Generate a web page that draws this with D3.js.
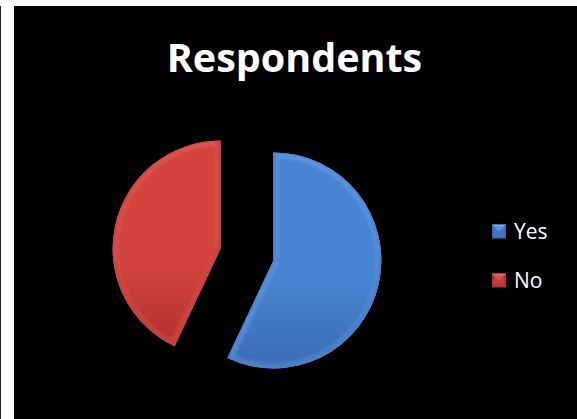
<!DOCTYPE html>
<html>
<head>
<meta charset="utf-8">
<script src="https://cdn.jsdelivr.net/npm/d3@7"></script>
<style>
  html, body { margin: 0; padding: 0; background: #fff; }
  svg { display: block; }
</style>
</head>
<body>
<svg id="chart" width="577" height="419"></svg>
<script>
// Survey answers
const categories = ["Yes", "No"];
const values = [57, 43];
const title = "Respondents";

const baseColors = ["#4784d2", "#d4433d"];
const lightColors = ["#6ea8ee", "#ea6660"];
const darkColors = ["#3a6cb3", "#b3322d"];

const W = 577, H = 419;
const svg = d3.select("#chart");
const defs = svg.append("defs");

// Page frame: white margin on the left and top, thin dark rule at the far left
svg.append("rect").attr("x", 0).attr("y", 0).attr("width", W).attr("height", H).attr("fill", "#fff");
svg.append("rect").attr("x", 0).attr("y", 6).attr("width", 1).attr("height", H - 6).attr("fill", "#222");
svg.append("rect").attr("x", 14).attr("y", 6).attr("width", W - 14).attr("height", H - 6).attr("fill", "#000");

// Title
svg.append("text")
  .attr("x", 294.5).attr("y", 72)
  .attr("text-anchor", "middle")
  .attr("fill", "#fff")
  .style("font-family", "'Open Sans', sans-serif")
  .style("font-weight", "700")
  .style("font-size", "39.5px")
  .text(title);

// Soft blur used for the bevelled rim of each slice
defs.append("filter").attr("id", "soft")
  .append("feGaussianBlur").attr("stdDeviation", 2);

// Vertical shading per slice
categories.forEach((c, i) => {
  const g = defs.append("linearGradient").attr("id", "grad" + i)
    .attr("x1", 0).attr("y1", 0).attr("x2", 0).attr("y2", 1);
  g.append("stop").attr("offset", "0%").attr("stop-color", baseColors[i]);
  g.append("stop").attr("offset", "60%").attr("stop-color", baseColors[i]);
  g.append("stop").attr("offset", "100%").attr("stop-color", darkColors[i]);
});

// Exploded pie
const cx = 247, cy = 254.5, radius = 108, explode = 27;
const pie = d3.pie().sort(null).value(d => d)(values);
const arc = d3.arc().innerRadius(0).outerRadius(radius);

const pieG = svg.append("g").attr("transform", `translate(${cx},${cy})`);
pie.forEach((d, i) => {
  const a = (d.startAngle + d.endAngle) / 2;
  const g = pieG.append("g")
    .attr("transform", `translate(${Math.sin(a) * explode},${-Math.cos(a) * explode})`);
  const path = arc(d);
  defs.append("clipPath").attr("id", "clip" + i).append("path")
    .attr("d", path)
    .attr("transform", `translate(${cx + Math.sin(a) * explode},${cy - Math.cos(a) * explode})`);
  g.append("path").attr("d", path).attr("fill", `url(#grad${i})`);
  // light rim along the upper edges, darker rim along the lower ones
  const rim = svg.append("g").attr("clip-path", `url(#clip${i})`)
    .append("g").attr("transform", `translate(${cx + Math.sin(a) * explode},${cy - Math.cos(a) * explode})`);
  rim.append("path").attr("d", path)
    .attr("fill", "none").attr("stroke", lightColors[i]).attr("stroke-width", 9)
    .attr("filter", "url(#soft)").attr("opacity", 0.85);
  rim.append("path").attr("d", path)
    .attr("transform", "translate(0,-2)")
    .attr("fill", "none").attr("stroke", darkColors[i]).attr("stroke-width", 6)
    .attr("filter", "url(#soft)").attr("opacity", 0.7)
    .attr("clip-path", null);
});

// Legend
const legend = svg.append("g");
const legendY = [231.5, 280.5];
categories.forEach((c, i) => {
  const g = legend.append("g").attr("transform", `translate(492,${legendY[i]})`);
  const s = 14;
  g.append("rect").attr("x", 0).attr("y", -s / 2).attr("width", s).attr("height", s).attr("fill", darkColors[i]);
  g.append("path")
    .attr("d", `M0,${-s / 2}L${s},${-s / 2}L${s / 2},${0}Z`)
    .attr("fill", lightColors[i]);
  g.append("rect").attr("x", 2).attr("y", -s / 2 + 2).attr("width", s - 4).attr("height", s - 4)
    .attr("fill", baseColors[i]).attr("opacity", 0.55);
  g.append("text")
    .attr("x", 22).attr("y", 7.5)
    .attr("fill", "#fff")
    .style("font-family", "'Open Sans', sans-serif")
    .style("font-size", "21px")
    .text(c);
});
</script>
</body>
</html>
